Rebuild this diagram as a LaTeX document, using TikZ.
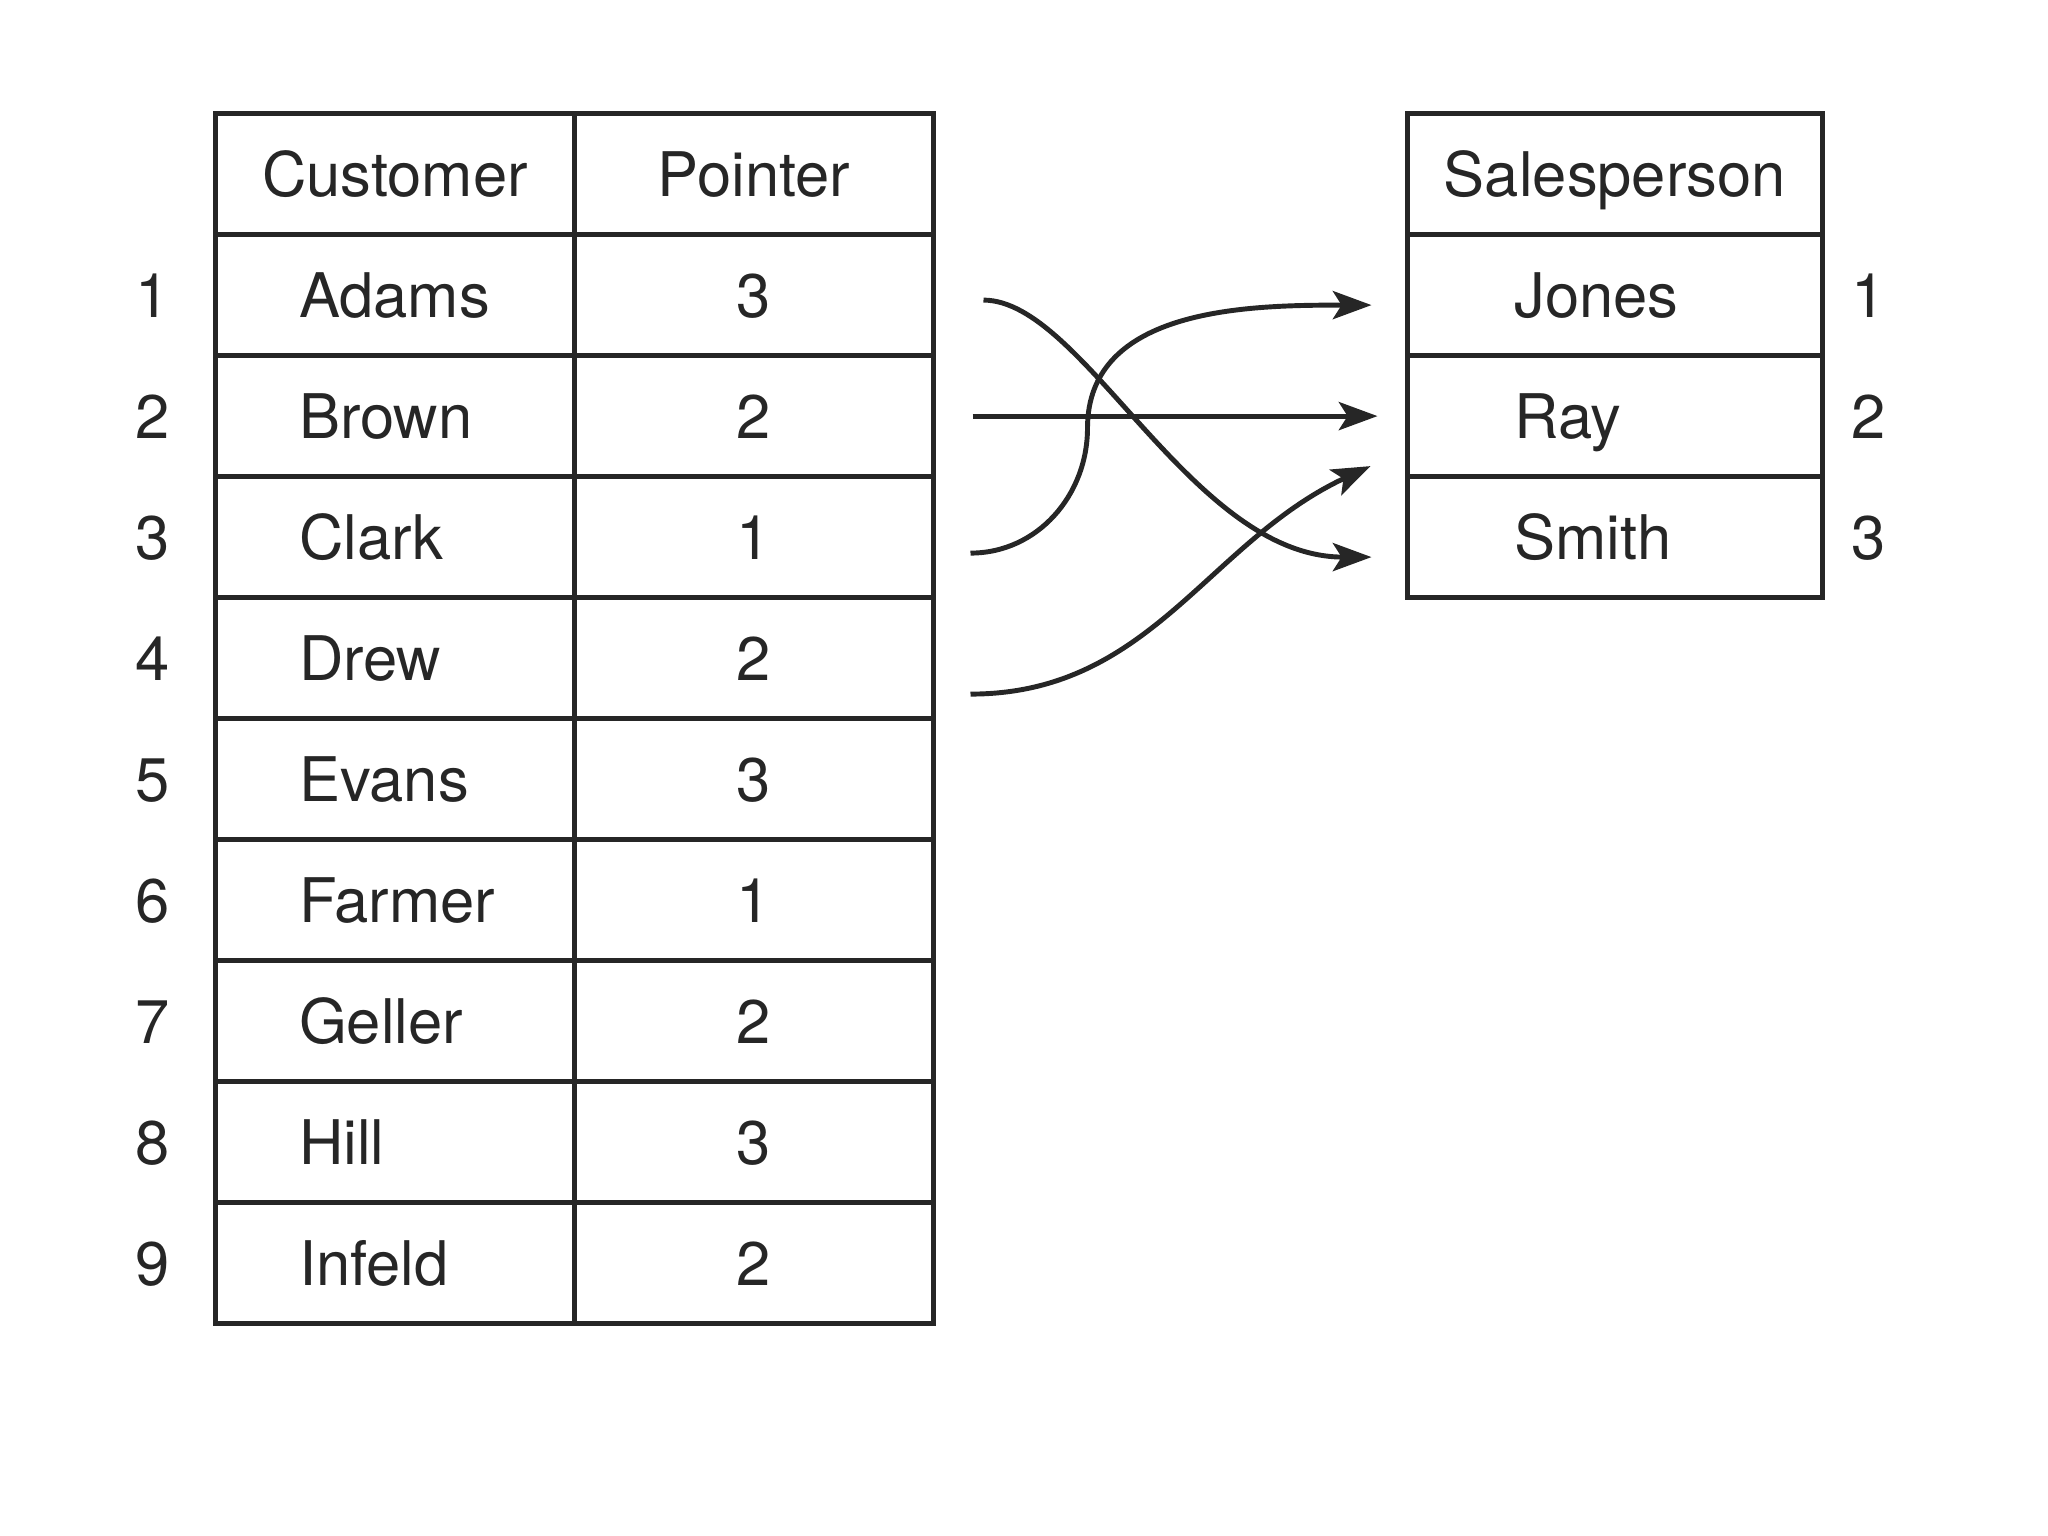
\documentclass[tikz,border=0pt]{standalone}
\usepackage{fontspec}
\setmainfont{TeX Gyre Heros}
\usepackage{tikz}
\usetikzlibrary{arrows.meta, positioning}
\tikzset{
	cell/.style={
		rectangle,
		draw=black!85,
		line width=1.3pt,
		minimum width=3.59cm,
		minimum height=1.21cm,
		inner sep=0pt,
		outer sep=0pt,
		text height=12.6pt,
		text depth=0pt,
		align=center
	},
	namecell/.style={
		cell,
		text width=1.92cm,
		inner xsep=0.835cm,
		align=left
	},
	saleshead/.style={
		cell,
		minimum width=4.15cm
	},
	salescell/.style={
		cell,
		minimum width=4.15cm,
		text width=2.01cm,
		inner xsep=1.07cm,
		align=left
	},
	rownum/.style={
		inner sep=0pt,
		text height=12.6pt,
		text depth=0pt
	},
	link/.style={
		->,
		>={Stealth[length=11pt, width=8pt, inset=2.5pt]},
		line width=1.4pt,
		draw=black!85
	}
}
\begin{document}
\begin{tikzpicture}[font=\fontsize{17.5}{21}\selectfont, text=black!85]
		\useasboundingbox (0,0) rectangle (20.48,-15.36);
		
		% customer table
		\node (cust) [cell, anchor=north west] at (2.155,-1.136) {Customer};
		\node (ptr)  [cell, right=0pt of cust]   {Pointer};
		\node (c1)   [namecell, below=0pt of cust] {Adams};
		\node (p1)   [cell, below=0pt of ptr]      {3};
		\node (c2)   [namecell, below=0pt of c1]   {Brown};
		\node (p2)   [cell, below=0pt of p1]       {2};
		\node (c3)   [namecell, below=0pt of c2]   {Clark};
		\node (p3)   [cell, below=0pt of p2]       {1};
		\node (c4)   [namecell, below=0pt of c3]   {Drew};
		\node (p4)   [cell, below=0pt of p3]       {2};
		\node (c5)   [namecell, below=0pt of c4]   {Evans};
		\node (p5)   [cell, below=0pt of p4]       {3};
		\node (c6)   [namecell, below=0pt of c5]   {Farmer};
		\node (p6)   [cell, below=0pt of p5]       {1};
		\node (c7)   [namecell, below=0pt of c6]   {Geller};
		\node (p7)   [cell, below=0pt of p6]       {2};
		\node (c8)   [namecell, below=0pt of c7]   {Hill};
		\node (p8)   [cell, below=0pt of p7]       {3};
		\node (c9)   [namecell, below=0pt of c8]   {Infeld};
		\node (p9)   [cell, below=0pt of p8]       {2};
		
		% record numbers
		\node (n1) [rownum, left=0.45cm of c1] {1};
		\node (n2) [rownum, left=0.45cm of c2] {2};
		\node (n3) [rownum, left=0.45cm of c3] {3};
		\node (n4) [rownum, left=0.45cm of c4] {4};
		\node (n5) [rownum, left=0.45cm of c5] {5};
		\node (n6) [rownum, left=0.45cm of c6] {6};
		\node (n7) [rownum, left=0.45cm of c7] {7};
		\node (n8) [rownum, left=0.45cm of c8] {8};
		\node (n9) [rownum, left=0.45cm of c9] {9};
		
		% salesperson table
		\node (sales) [saleshead, right=4.74cm of ptr] {Salesperson};
		\node (s1)    [salescell, below=0pt of sales]  {Jones};
		\node (s2)    [salescell, below=0pt of s1]     {Ray};
		\node (s3)    [salescell, below=0pt of s2]     {Smith};
		\node (k1) [rownum, right=0.28cm of s1] {1};
		\node (k2) [rownum, right=0.28cm of s2] {2};
		\node (k3) [rownum, right=0.28cm of s3] {3};
		
		% pointer ends
		\coordinate (adamsout) at ([xshift=0.5cm, yshift=-0.05cm]p1.east);
		\coordinate (brownout) at ([xshift=0.39cm]p2.east);
		\coordinate (clarkout) at ([xshift=0.37cm, yshift=-0.16cm]p3.east);
		\coordinate (drewout)  at ([xshift=0.37cm, yshift=-0.36cm]p4.east);
		\coordinate (jonesin)  at ([xshift=-0.36cm, yshift=-0.1cm]s1.west);
		\coordinate (rayin)    at ([xshift=-0.3cm]s2.west);
		\coordinate (rayin2)   at ([xshift=-0.37cm, yshift=-0.5cm]s2.west);
		\coordinate (smithin)  at ([xshift=-0.36cm, yshift=-0.2cm]s3.west);
		
		% pointers
		\draw [link] (adamsout) .. controls +(1.0,0) and +(-1.8,0) .. (smithin);
		\draw [link] (brownout) -- (rayin);
		\draw [link] (clarkout) to [out=0, in=-90] ++(1.17,1.25) to [out=90, in=180] (jonesin);
		\draw [link] (drewout) to [out=0, in=205] (rayin2);
		
	\end{tikzpicture}
\end{document}
